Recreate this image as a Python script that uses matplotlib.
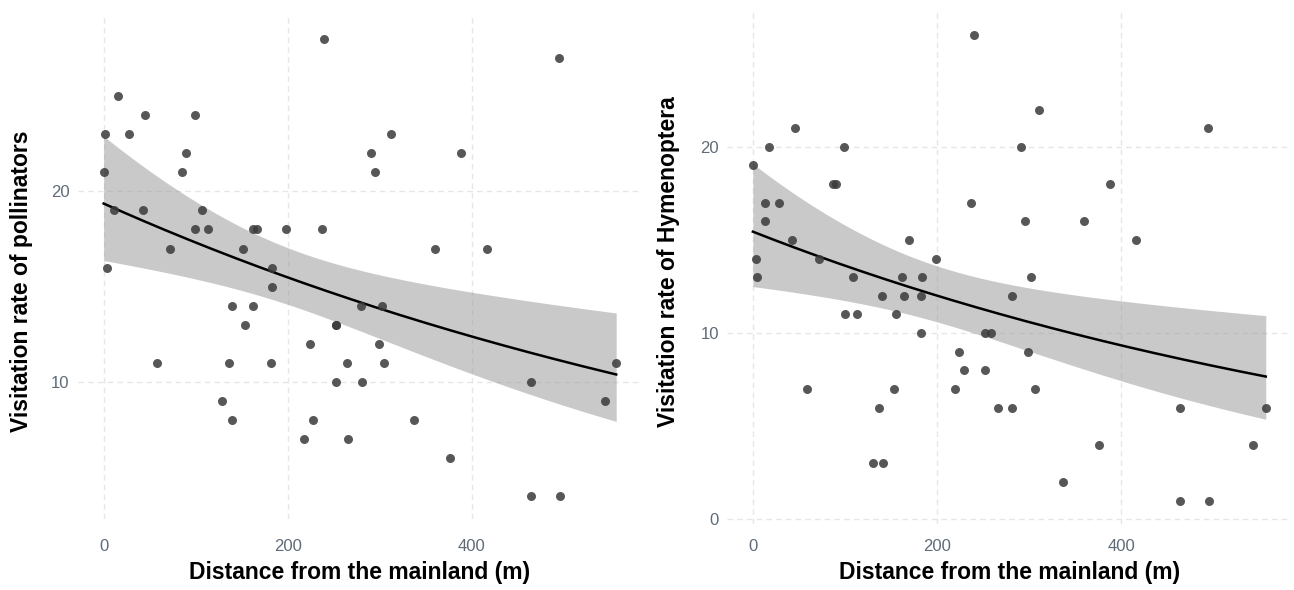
import numpy as np
import matplotlib
matplotlib.use('Agg')
from matplotlib import pyplot as plt

plt.rcParams['font.family'] = ['Liberation Sans', 'DejaVu Sans']

# Besøksrate for alle pollinatorer (venstre panel)
dist_poll = [0, 2, 4, 11, 16, 27, 45, 43, 58, 72, 85, 90, 99, 99, 107,
             113, 129, 139, 136, 140, 151, 154, 162, 162, 167, 182, 183,
             183, 198, 218, 224, 227, 239, 237, 252, 252, 252, 264, 266,
             280, 281, 291, 295, 299, 302, 305, 312, 337, 360, 376, 388,
             417, 464, 464, 495, 496, 545, 557]
rate_poll = [21, 23, 16, 19, 25, 23, 24, 19, 11, 17, 21, 22, 24, 18, 19,
             18, 9, 14, 11, 8, 17, 13, 14, 18, 18, 11, 16, 15, 18, 7, 12,
             8, 28, 18, 13, 13, 10, 11, 7, 14, 10, 22, 21, 12, 14, 11, 23,
             8, 17, 6, 22, 17, 10, 4, 27, 4, 9, 11]

# Besøksrate for Hymenoptera (høyre panel)
dist_hym = [0, 3, 5, 13, 13, 18, 28, 46, 43, 59, 72, 87, 90, 99, 100,
            109, 113, 130, 137, 141, 140, 153, 155, 162, 164, 170, 183,
            184, 183, 199, 220, 224, 229, 237, 240, 252, 259, 252, 266,
            281, 281, 291, 295, 299, 302, 306, 311, 337, 360, 376, 388,
            416, 464, 464, 494, 495, 543, 557]
rate_hym = [19, 14, 13, 17, 16, 20, 17, 21, 15, 7, 14, 18, 18, 20, 11,
            13, 11, 3, 6, 3, 12, 7, 11, 13, 12, 15, 12, 13, 10, 14, 7, 9,
            8, 17, 26, 10, 10, 8, 6, 6, 12, 20, 16, 9, 13, 7, 22, 2, 16, 4,
            18, 15, 6, 1, 21, 1, 4, 6]

xlabel = 'Distance from the mainland (m)'
ylabels = ['Visitation rate of pollinators', 'Visitation rate of Hymenoptera']
yticks = [[10, 20], [0, 10, 20]]
xticks = [0, 200, 400]


def quasipoisson(x, y):
    """Poisson-GLM med log-link (IRLS), SE skalert med Pearson-dispersjon."""
    x = np.asarray(x, float)
    y = np.asarray(y, float)
    X = np.column_stack([np.ones_like(x), x])
    beta = np.array([np.log(y.mean()), 0.0])
    for _ in range(50):
        eta = X @ beta
        mu = np.exp(eta)
        z = eta + (y - mu) / mu
        XtW = X.T * mu
        beta = np.linalg.solve(XtW @ X, XtW @ z)
    mu = np.exp(X @ beta)
    phi = np.sum((y - mu) ** 2 / mu) / (len(y) - 2)
    cov = np.linalg.inv((X.T * mu) @ X) * phi
    return beta, cov


def glattlinje(ax, x, y):
    beta, cov = quasipoisson(x, y)
    xs = np.linspace(min(x), max(x), 200)
    Xs = np.column_stack([np.ones_like(xs), xs])
    eta = Xs @ beta
    se = np.sqrt(np.einsum('ij,jk,ik->i', Xs, cov, Xs))
    ax.fill_between(xs, np.exp(eta - 1.96 * se), np.exp(eta + 1.96 * se),
                    color='#999999', alpha=0.52, lw=0, zorder=2)
    ax.plot(xs, np.exp(eta), color='black', lw=1.8, zorder=3)


fig = plt.figure(figsize=(12.94, 5.9), dpi=100)
ax1 = fig.add_axes([0.0603, 0.120, 0.4357, 0.853])
ax2 = fig.add_axes([0.562, 0.112, 0.436, 0.868])

paneler = [(ax1, dist_poll, rate_poll, ylabels[0], yticks[0], 14),
           (ax2, dist_hym, rate_hym, ylabels[1], yticks[1], 11)]
for ax, x, y, yl, yt, pad in paneler:
    glattlinje(ax, x, y)
    ax.scatter(x, y, s=42, color='#3a3a3a', alpha=0.85, lw=0, zorder=4)
    span = max(x) - min(x)
    ax.set_xlim(min(x) - 0.05 * span, max(x) + 0.05 * span)
    yspan = max(y) - min(y)
    ax.set_ylim(min(y) - 0.05 * yspan, max(y) + 0.05 * yspan)
    ax.set_xticks(xticks)
    ax.set_yticks(yt)
    ax.grid(True, color='#e6e6e6', linestyle=(0, (4, 3)), lw=1.0, zorder=0)
    ax.set_axisbelow(True)
    for s in ax.spines.values():
        s.set_visible(False)
    ax.tick_params(length=0, labelsize=12, labelcolor='#5f6b78')
    ax.tick_params(axis='y', pad=6)
    ax.tick_params(axis='x', pad=pad)
    ax.set_xlabel(xlabel, fontsize=16.5, fontweight='bold', labelpad=5)
    ax.set_ylabel(yl, fontsize=16.5, fontweight='bold')

ax1.yaxis.set_label_coords(-0.080, 0.473)
ax2.yaxis.set_label_coords(-0.083, 0.512)

fig.savefig('out.png', dpi=100)
